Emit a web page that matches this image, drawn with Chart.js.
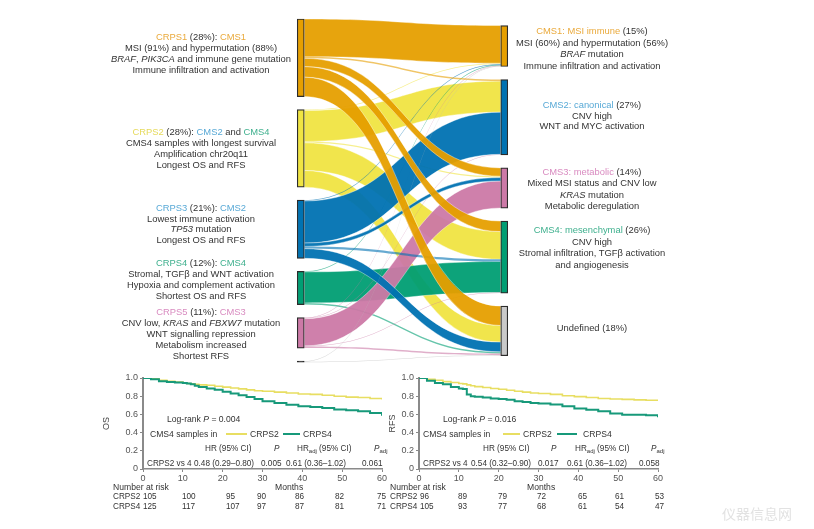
<!DOCTYPE html>
<html>
<head>
<meta charset="utf-8">
<script src="https://cdn.jsdelivr.net/npm/chart.js@4.4.1/dist/chart.umd.min.js"></script>
<style>
body{margin:0;background:#fff;width:814px;height:529px;position:relative;overflow:hidden;font-family:"Liberation Sans",Arial,sans-serif;color:#333}
canvas{position:absolute}
.t{position:absolute;width:240px;font-size:9.4px;line-height:11px;text-align:center;white-space:nowrap}
.k{position:absolute;font-size:8.6px;line-height:10px;white-space:nowrap;color:#333}
.k sub{font-size:6px;vertical-align:-2px}
.s{font-size:8.2px}
.ln{display:inline-block;position:absolute;height:2px}
.c1{color:#EAAA3C}.c2{color:#E6DA5C}.c3{color:#58A9D6}.c4{color:#3FB08E}.c5{color:#D98BC0}
.wm{position:absolute;left:722px;top:503px;font-size:14px;color:#e2e2e2;font-family:"Noto Sans CJK SC",sans-serif}
</style>
</head>
<body>

<canvas id="sankey" width="407" height="372" style="left:199px;top:0px"></canvas>
<canvas id="osChart" width="290" height="116" style="left:100px;top:368px"></canvas>
<canvas id="rfsChart" width="280" height="116" style="left:386px;top:368px"></canvas>

<!-- left annotations -->
<div class="t" style="left:81px;top:31px"><span class="c1">CRPS1</span> (28%): <span class="c1">CMS1</span><br>MSI (91%) and hypermutation (88%)<br><i>BRAF</i>, <i>PIK3CA</i> and immune gene mutation<br>Immune infiltration and activation</div>
<div class="t" style="left:81px;top:126px"><span class="c2">CRPS2</span> (28%): <span class="c3">CMS2</span> and <span class="c4">CMS4</span><br>CMS4 samples with longest survival<br>Amplification chr20q11<br>Longest OS and RFS</div>
<div class="t" style="left:81px;top:203px;line-height:10.5px"><span class="c3">CRPS3</span> (21%): <span class="c3">CMS2</span><br>Lowest immune activation<br><i>TP53</i> mutation<br>Longest OS and RFS</div>
<div class="t" style="left:81px;top:257px"><span class="c4">CRPS4</span> (12%): <span class="c4">CMS4</span><br>Stromal, TGFβ and WNT activation<br>Hypoxia and complement activation<br>Shortest OS and RFS</div>
<div class="t" style="left:81px;top:306px"><span class="c5">CRPS5</span> (11%): <span class="c5">CMS3</span><br>CNV low, <i>KRAS</i> and <i>FBXW7</i> mutation<br>WNT signalling repression<br>Metabolism increased<br>Shortest RFS</div>

<!-- right annotations -->
<div class="t" style="left:472px;top:25px;line-height:11.6px"><span class="c1">CMS1: MSI immune</span> (15%)<br>MSI (60%) and hypermutation (56%)<br><i>BRAF</i> mutation<br>Immune infiltration and activation</div>
<div class="t" style="left:472px;top:100px;line-height:10.7px"><span class="c3">CMS2: canonical</span> (27%)<br>CNV high<br>WNT and MYC activation</div>
<div class="t" style="left:472px;top:166px;line-height:11.3px"><span class="c5">CMS3: metabolic</span> (14%)<br>Mixed MSI status and CNV low<br><i>KRAS</i> mutation<br>Metabolic deregulation</div>
<div class="t" style="left:472px;top:224px;line-height:11.6px"><span class="c4">CMS4: mesenchymal</span> (26%)<br>CNV high<br>Stromal infiltration, TGFβ activation<br>and angiogenesis</div>
<div class="t" style="left:472px;top:322px">Undefined (18%)</div>

<!-- OS panel text -->
<div class="k" style="left:167px;top:414px">Log-rank <i>P</i> = 0.004</div>
<div class="k" style="left:150px;top:429px">CMS4 samples in</div>
<span class="ln" style="left:226px;top:433px;width:21px;background:#E8DE62"></span>
<div class="k" style="left:250px;top:429px">CRPS2</div>
<span class="ln" style="left:283px;top:433px;width:17px;background:#17997A"></span>
<div class="k" style="left:303px;top:429px">CRPS4</div>
<div class="k s" style="left:205px;top:444px">HR (95% CI)</div>
<div class="k s" style="left:274px;top:444px"><i>P</i></div>
<div class="k s" style="left:297px;top:444px">HR<sub>adj</sub> (95% CI)</div>
<div class="k s" style="left:374px;top:444px"><i>P</i><sub>adj</sub></div>
<div class="k s" style="left:147px;top:459px">CRPS2 vs 4</div>
<div class="k s" style="left:194px;top:459px">0.48 (0.29–0.80)</div>
<div class="k s" style="left:261px;top:459px">0.005</div>
<div class="k s" style="left:286px;top:459px">0.61 (0.36–1.02)</div>
<div class="k s" style="left:362px;top:459px">0.061</div>

<!-- RFS panel text -->
<div class="k" style="left:443px;top:414px">Log-rank <i>P</i> = 0.016</div>
<div class="k" style="left:423px;top:429px">CMS4 samples in</div>
<span class="ln" style="left:503px;top:433px;width:17px;background:#E8DE62"></span>
<div class="k" style="left:523px;top:429px">CRPS2</div>
<span class="ln" style="left:557px;top:433px;width:20px;background:#17997A"></span>
<div class="k" style="left:583px;top:429px">CRPS4</div>
<div class="k s" style="left:483px;top:444px">HR (95% CI)</div>
<div class="k s" style="left:551px;top:444px"><i>P</i></div>
<div class="k s" style="left:575px;top:444px">HR<sub>adj</sub> (95% CI)</div>
<div class="k s" style="left:651px;top:444px"><i>P</i><sub>adj</sub></div>
<div class="k s" style="left:423px;top:459px">CRPS2 vs 4</div>
<div class="k s" style="left:471px;top:459px">0.54 (0.32–0.90)</div>
<div class="k s" style="left:538px;top:459px">0.017</div>
<div class="k s" style="left:567px;top:459px">0.61 (0.36–1.02)</div>
<div class="k s" style="left:639px;top:459px">0.058</div>

<div class="k" style="left:113px;top:482px">Number at risk</div>
<div class="k" style="left:275px;top:482px">Months</div>
<div class="k" style="left:390px;top:482px">Number at risk</div>
<div class="k" style="left:527px;top:482px">Months</div>
<div id="risk"></div>

<div class="wm">仪器信息网</div>

<script>
Chart.defaults.font.family = '"Liberation Sans", Arial, sans-serif';

// ---------- Sankey: CRPS -> CMS (% of samples) ----------
const crpsLabels = ['CRPS1', 'CRPS2', 'CRPS3', 'CRPS4', 'CRPS5', 'NA'];
const cmsLabels = ['CMS1', 'CMS2', 'CMS3', 'CMS4', 'Undefined'];
// each row: share going into CMS1, CMS2, CMS3, CMS4, Undefined
const fromCRPS1 = [13.6, 0.6, 3.0, 3.8, 7.0];
const fromCRPS2 = [0.3, 11.2, 0.5, 10.0, 6.0];
const fromCRPS3 = [0.3, 15.2, 1.2, 0.8, 3.5];
const fromCRPS4 = [0.2, 0, 0, 11.2, 0.6];
const fromCRPS5 = [0.2, 0.2, 9.8, 0.2, 0.6];
const fromNA = [0.2, 0, 0, 0, 0.2];
const flows = [fromCRPS1, fromCRPS2, fromCRPS3, fromCRPS4, fromCRPS5, fromNA];

const crpsColors = ['#E69F00', '#F0E442', '#0072B2', '#009E73', '#CC79A7', '#222222'];
const cmsColors = ['#E69F00', '#0072B2', '#CC79A7', '#009E73', '#C9C9C9'];

// ---------- Kaplan-Meier curves ----------
const months = [0, 2, 4, 6, 8, 10, 11, 12, 13, 14, 16, 18, 20, 22, 24, 26, 28, 30, 33, 36, 39, 42, 45, 48, 51, 54, 57, 60];
const osCRPS2 = [1, 0.99, 0.975, 0.965, 0.955, 0.945, 0.94, 0.935, 0.93, 0.925, 0.92, 0.91, 0.9, 0.89, 0.88, 0.87, 0.86, 0.855, 0.845, 0.835, 0.825, 0.82, 0.81, 0.8, 0.79, 0.785, 0.775, 0.765];
const osCRPS4 = [1, 0.985, 0.965, 0.955, 0.95, 0.945, 0.94, 0.93, 0.915, 0.9, 0.885, 0.87, 0.85, 0.83, 0.81, 0.79, 0.77, 0.745, 0.725, 0.705, 0.69, 0.68, 0.67, 0.655, 0.645, 0.635, 0.615, 0.585];
const rfsCRPS2 = [1, 0.985, 0.975, 0.96, 0.95, 0.94, 0.935, 0.925, 0.915, 0.905, 0.895, 0.885, 0.876, 0.865, 0.855, 0.845, 0.835, 0.83, 0.82, 0.805, 0.795, 0.785, 0.775, 0.77, 0.765, 0.76, 0.755, 0.75];
const rfsCRPS4 = [1, 0.97, 0.945, 0.93, 0.9, 0.885, 0.88, 0.82, 0.8, 0.795, 0.785, 0.775, 0.77, 0.76, 0.745, 0.735, 0.725, 0.72, 0.71, 0.69, 0.665, 0.65, 0.635, 0.61, 0.595, 0.595, 0.59, 0.57];

// number at risk at 0,10,...,60 months
const osRiskCRPS2 = [105, 100, 95, 90, 86, 82, 75];
const osRiskCRPS4 = [125, 117, 107, 97, 87, 81, 71];
const rfsRiskCRPS2 = [96, 89, 79, 72, 65, 61, 53];
const rfsRiskCRPS4 = [105, 93, 77, 68, 61, 54, 47];

// ---------- sankey layout ----------
const gap = 4.7;
const sum = a => a.reduce((s, v) => s + v, 0);
const crpsSize = flows.map(sum);
const cmsSize = cmsLabels.map((_, j) => sum(flows.map(r => r[j])));
function stack(sizes, start) {
    let y = start;
    return sizes.map(s => { const p = [y, y + s]; y += s + gap; return p; });
}
const leftSpan = sum(crpsSize) + gap * (crpsSize.length - 1);
const rightSpan = sum(cmsSize) + gap * (cmsSize.length - 1);
const crpsPos = stack(crpsSize, 0);
const cmsPos = stack(cmsSize, (leftSpan - rightSpan) / 2);

const pxPerUnit = 2.77;
const yMin = -19 / pxPerUnit;
const yMax = yMin + 372 / pxPerUnit;
const barW = 7;

const nodeSets = [];
crpsLabels.forEach((n, i) => nodeSets.push({
    label: n, data: [crpsPos[i], null], backgroundColor: crpsColors[i]
}));
cmsLabels.forEach((n, j) => nodeSets.push({
    label: n, data: [null, cmsPos[j]], backgroundColor: cmsColors[j]
}));
nodeSets.forEach(d => Object.assign(d, {
    grouped: false, barThickness: barW, borderWidth: 1.2,
    borderColor: '#2b2b2b', borderSkipped: false
}));

const flowPlugin = {
    id: 'flows',
    beforeDatasetsDraw(chart) {
        const ctx = chart.ctx, y = chart.scales.y;
        const xl = chart.getDatasetMeta(0).data[0].x + barW / 2;
        const xr = chart.getDatasetMeta(crpsLabels.length).data[1].x - barW / 2;
        const xm = (xl + xr) / 2;
        // offsets of each band at its source and its target
        const src = flows.map((row, i) => {
            let o = crpsPos[i][0];
            return row.map(v => { const s = o; o += v; return s; });
        });
        const tgt = flows.map(r => r.map(() => 0));
        cmsLabels.forEach((_, j) => {
            let o = cmsPos[j][0];
            flows.forEach((row, i) => { tgt[i][j] = o; o += row[j]; });
        });
        const order = [1, 3, 4, 2, 0, 5];
        ctx.save();
        ctx.strokeStyle = 'rgba(255,255,255,0.8)';
        ctx.lineWidth = 0.5;
        order.forEach(i => {
            flows[i].forEach((v, j) => {
                if (!v) return;
                const s0 = y.getPixelForValue(src[i][j]), s1 = y.getPixelForValue(src[i][j] + v);
                const t0 = y.getPixelForValue(tgt[i][j]), t1 = y.getPixelForValue(tgt[i][j] + v);
                ctx.beginPath();
                ctx.moveTo(xl, s0);
                ctx.bezierCurveTo(xm, s0, xm, t0, xr, t0);
                ctx.lineTo(xr, t1);
                ctx.bezierCurveTo(xm, t1, xm, s1, xl, s1);
                ctx.closePath();
                ctx.globalAlpha = v < 1 ? 0.6 : 0.95;
                ctx.fillStyle = i === 5 ? '#bbbbbb' : crpsColors[i];
                ctx.fill();
                if (v >= 1) ctx.stroke();
            });
        });
        ctx.restore();
    }
};

new Chart(document.getElementById('sankey'), {
    type: 'bar',
    data: { labels: ['CRPS', 'CMS'], datasets: nodeSets },
    options: {
        responsive: false, animation: false, events: [],
        plugins: { legend: { display: false }, tooltip: { enabled: false } },
        scales: {
            x: { display: false },
            y: { display: false, reverse: true, min: yMin, max: yMax }
        }
    },
    plugins: [flowPlugin]
});

// ---------- KM charts ----------
function kmChart(id, title, yellow, green, yWidth) {
    const pts = arr => months.map((m, i) => ({ x: m, y: arr[i] }));
    return new Chart(document.getElementById(id), {
        type: 'line',
        data: {
            datasets: [
                { label: 'CRPS4', data: pts(green), borderColor: '#17997A', borderWidth: 2 },
                { label: 'CRPS2', data: pts(yellow), borderColor: '#E8DE62', borderWidth: 1.6 }
            ].map(d => Object.assign(d, { stepped: true, pointRadius: 0, fill: false }))
        },
        options: {
            responsive: false, animation: false, events: [],
            layout: { padding: { top: 10, right: 8 } },
            plugins: { legend: { display: false }, tooltip: { enabled: false } },
            scales: {
                x: {
                    type: 'linear', min: 0, max: 60,
                    ticks: { stepSize: 10, maxRotation: 0, padding: 1, color: '#555', font: { size: 9 } },
                    grid: { drawOnChartArea: false, tickLength: 3, color: '#888' },
                    border: { color: '#8a8a8a', width: 1.5 },
                    afterFit(s) { s.height = 15; }
                },
                y: {
                    min: 0, max: 1,
                    ticks: {
                        stepSize: 0.2, padding: 2, color: '#555', font: { size: 9 },
                        callback: v => v === 0 ? '0' : v.toFixed(1)
                    },
                    grid: { drawOnChartArea: false, tickLength: 3, color: '#888' },
                    border: { color: '#8a8a8a', width: 2 },
                    title: { display: true, text: title, color: '#444', font: { size: 9 }, padding: 1 },
                    afterFit(s) { s.width = yWidth; }
                }
            }
        }
    });
}
kmChart('osChart', 'OS', osCRPS2, osCRPS4, 43);
kmChart('rfsChart', 'RFS', rfsCRPS2, rfsCRPS4, 33);

// ---------- number at risk rows ----------
const osRiskX = [143, 182, 226, 257, 295, 335, 377];
const rfsRiskX = [420, 458, 498, 537, 578, 615, 655];
const risk = document.getElementById('risk');
function riskRow(name, nameX, xs, vals, top) {
    let html = `<div class="k s" style="left:${nameX}px;top:${top}px">${name}</div>`;
    vals.forEach((v, i) => { html += `<div class="k s" style="left:${xs[i]}px;top:${top}px">${v}</div>`; });
    risk.innerHTML += html;
}
riskRow('CRPS2', 113, osRiskX, osRiskCRPS2, 492);
riskRow('CRPS4', 113, osRiskX, osRiskCRPS4, 502);
riskRow('CRPS2', 390, rfsRiskX, rfsRiskCRPS2, 492);
riskRow('CRPS4', 390, rfsRiskX, rfsRiskCRPS4, 502);
</script>
</body>
</html>
